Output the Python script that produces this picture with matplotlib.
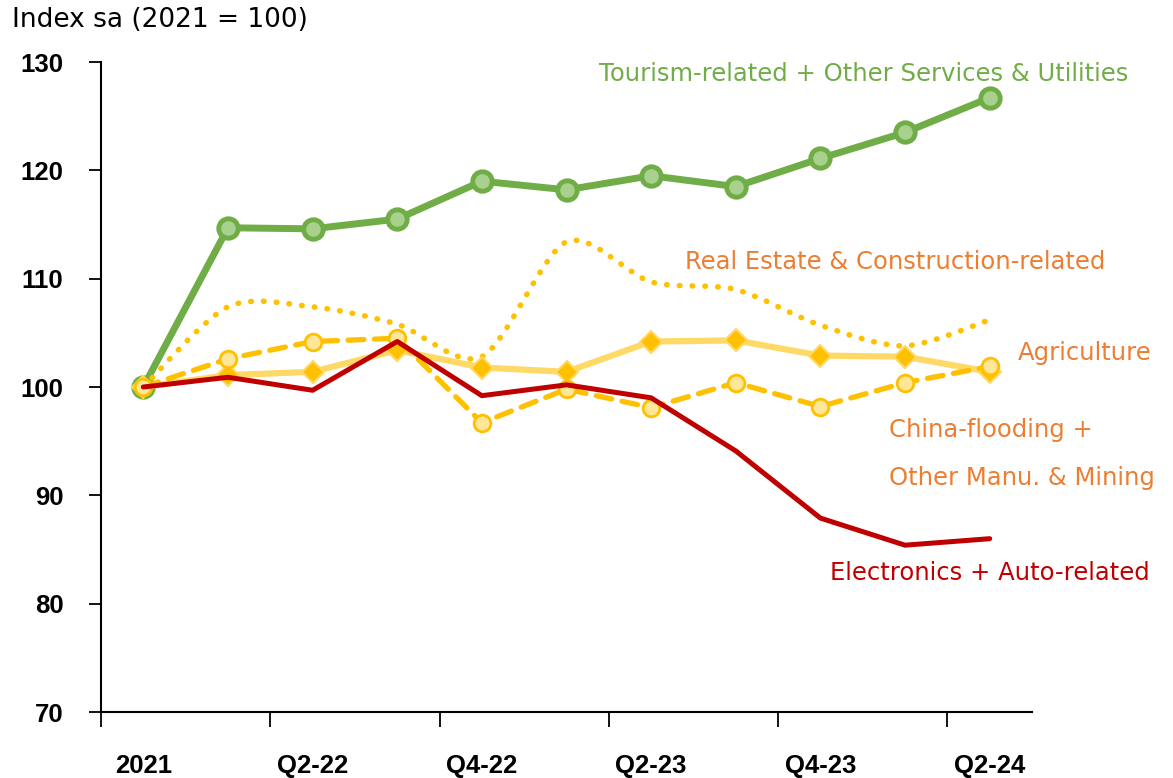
import numpy as np
import matplotlib
matplotlib.use("Agg")
import matplotlib.pyplot as plt
from matplotlib.path import Path
from matplotlib.patches import PathPatch

# quarters from 2021 (base) to Q2-24
quarters = ["2021", "Q1-22", "Q2-22", "Q3-22", "Q4-22", "Q1-23",
            "Q2-23", "Q3-23", "Q4-23", "Q1-24", "Q2-24"]

tourism = [100, 114.7, 114.6, 115.5, 119.0, 118.2, 119.5, 118.5, 121.1, 123.5, 126.7]
real_estate = [100, 107.4, 107.4, 105.8, 102.8, 113.4, 109.7, 109.0, 105.7, 103.8, 106.2]
agriculture = [100, 101.1, 101.4, 103.4, 101.8, 101.4, 104.2, 104.3, 102.9, 102.8, 101.4]
china_flood = [100, 102.6, 104.2, 104.5, 96.7, 99.8, 98.1, 100.4, 98.2, 100.4, 101.9]
electronics = [100, 100.9, 99.7, 104.2, 99.2, 100.2, 99.0, 94.1, 87.9, 85.4, 86.0]

GREEN = "#70AD47"
GREEN_LT = "#A9D18E"
GOLD = "#FFC000"
YELLOW_LT = "#FFD966"
CREAM = "#FFE699"
RED = "#C00000"
ORANGE = "#ED7D31"

LABEL_FONT = ["DejaVu Sans"]
LABEL_SIZE = 17.5


def smooth_path(xs, ys):
    # catmull-rom style bezier, like excel's smoothed line
    pts = np.column_stack([xs, ys]).astype(float)
    n = len(pts)
    verts = [pts[0]]
    codes = [Path.MOVETO]
    for i in range(n - 1):
        p0 = pts[i - 1] if i > 0 else pts[i]
        p1 = pts[i]
        p2 = pts[i + 1]
        p3 = pts[i + 2] if i + 2 < n else pts[i + 1]
        c1 = p1 + (p2 - p0) / 7.0
        c2 = p2 - (p3 - p1) / 7.0
        verts += [c1, c2, p2]
        codes += [Path.CURVE4] * 3
    return Path(verts, codes)


fig = plt.figure(figsize=(11.73, 7.78), dpi=100)
ax = fig.add_axes([0.0861, 0.0848, 0.7937, 0.8355])

x = np.arange(len(quarters))

ax.plot(x, tourism, color=GREEN, lw=5, marker="o", ms=14,
        mfc=GREEN_LT, mec=GREEN, mew=3.5, zorder=2, solid_capstyle="round")

dotted = PathPatch(smooth_path(x, real_estate), fill=False, edgecolor=GOLD,
                   lw=4, linestyle=(0, (0.1, 2.2)), capstyle="round", zorder=3)
ax.add_patch(dotted)

ax.plot(x, agriculture, color=YELLOW_LT, lw=4.5, marker="D", ms=11,
        mfc=GOLD, mec=YELLOW_LT, mew=1.5, zorder=4)

ax.plot(x, china_flood, color=GOLD, lw=3.8, dashes=(3, 2), marker="o", ms=12,
        mfc=CREAM, mec=GOLD, mew=2, zorder=5, dash_capstyle="round")

ax.plot(x, electronics, color=RED, lw=3.6, zorder=6, solid_capstyle="round")

ax.set_xlim(-0.5, 10.5)
ax.set_ylim(70, 130)
ax.set_yticks(np.arange(70, 131, 10))

# ticks at the boundaries, labels every second quarter
ax.set_xticks(np.arange(-0.5, 10.6, 2))
ax.set_xticklabels([])
ax.set_xticks(x[::2], minor=True)
ax.set_xticklabels([quarters[i] for i in x[::2]], minor=True)
ax.tick_params(axis="x", which="major", direction="out", length=11, width=1.3)
ax.tick_params(axis="x", which="minor", length=0, pad=30, labelsize=18.5)
ax.tick_params(axis="y", direction="out", length=9, width=1.3, pad=18, labelsize=18.5)
for lab in ax.get_xticklabels(minor=True) + ax.get_yticklabels():
    lab.set_fontfamily(["Liberation Sans", "DejaVu Sans"])
    lab.set_fontweight("bold")

for side in ["top", "right"]:
    ax.spines[side].set_visible(False)
for side in ["left", "bottom"]:
    ax.spines[side].set_linewidth(1.5)

fig.text(0.010, 0.974, "Index sa (2021 = 100)", fontsize=19,
         family=LABEL_FONT, va="center", ha="left")

ax.text(5.38, 128.9, "Tourism-related + Other Services & Utilities", color=GREEN,
        fontsize=LABEL_SIZE, family=LABEL_FONT, va="center", ha="left")
ax.text(6.40, 111.5, "Real Estate & Construction-related", color=ORANGE,
        fontsize=LABEL_SIZE, family=LABEL_FONT, va="center", ha="left")
ax.text(10.33, 103.1, "Agriculture", color=ORANGE,
        fontsize=LABEL_SIZE, family=LABEL_FONT, va="center", ha="left")
ax.text(8.81, 96.0, "China-flooding +", color=ORANGE,
        fontsize=LABEL_SIZE, family=LABEL_FONT, va="center", ha="left")
ax.text(8.81, 91.6, "Other Manu. & Mining", color=ORANGE,
        fontsize=LABEL_SIZE, family=LABEL_FONT, va="center", ha="left")
ax.text(8.11, 82.8, "Electronics + Auto-related", color=RED,
        fontsize=LABEL_SIZE, family=LABEL_FONT, va="center", ha="left")

fig.savefig("out.png", dpi=100)
